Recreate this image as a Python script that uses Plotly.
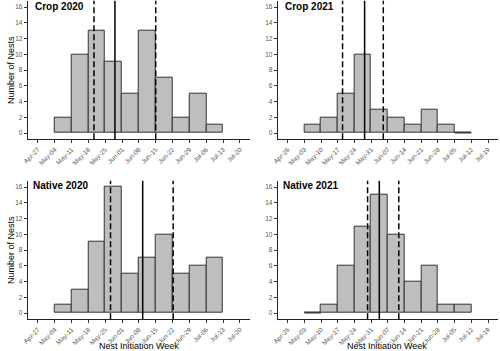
import plotly.graph_objects as go
import pandas as pd

# ---------------- data ----------------
bins_2020 = ["2020-05-04", "2020-05-11", "2020-05-18", "2020-05-25", "2020-06-01",
             "2020-06-08", "2020-06-15", "2020-06-22", "2020-06-29", "2020-07-06"]
bins_2021 = ["2021-05-03", "2021-05-10", "2021-05-17", "2021-05-24", "2021-05-31",
             "2021-06-07", "2021-06-14", "2021-06-21", "2021-06-28", "2021-07-05"]

crop_2020 = [2, 10, 13, 9, 5, 13, 7, 2, 5, 1]
crop_2021 = [1, 2, 5, 10, 3, 2, 1, 3, 1, 0]
native_2020 = [1, 3, 9, 16, 5, 7, 10, 5, 6, 7]
native_2021 = [0, 1, 6, 11, 15, 10, 4, 6, 1, 1]

# vertical reference lines: (lower dashed, solid centre, upper dashed)
crop_2020_lines = ["2020-05-20 08:00", "2020-05-29 01:00", "2020-06-15 00:00"]
crop_2021_lines = ["2021-05-19 00:00", "2021-05-28 06:00", "2021-06-05 02:00"]
native_2020_lines = ["2020-05-27 05:00", "2020-06-09 14:00", "2020-06-22 06:00"]
native_2021_lines = ["2021-05-29 12:00", "2021-06-03 10:00", "2021-06-11 14:00"]

ticks_2020 = ["2020-04-27", "2020-05-04", "2020-05-11", "2020-05-18", "2020-05-25",
              "2020-06-01", "2020-06-08", "2020-06-15", "2020-06-22", "2020-06-29",
              "2020-07-06", "2020-07-13", "2020-07-20"]
ticks_2021 = ["2021-04-26", "2021-05-03", "2021-05-10", "2021-05-17", "2021-05-24",
              "2021-05-31", "2021-06-07", "2021-06-14", "2021-06-21", "2021-06-28",
              "2021-07-05", "2021-07-12", "2021-07-19"]

titles = ["Crop 2020", "Crop 2021", "Native 2020", "Native 2021"]
y_ticks = [0, 2, 4, 6, 8, 10, 12, 14, 16]

# ---------------- layout helpers ----------------
W, H = 500, 351
def px_x(p):
    return p / W
def px_y(p):
    return 1 - p / H

FONT = "Liberation Sans, Arial, sans-serif"
BAR_FILL = "#BEBEBE"
BAR_LINE = "#333333"
TICK_COL = "#555555"

panels = [
    dict(title=titles[0], bins=bins_2020, counts=crop_2020, lines=crop_2020_lines,
         ticks=ticks_2020, xd=(22, 247), yd=(0.7, 139.3), tpos=(27, 6)),
    dict(title=titles[1], bins=bins_2021, counts=crop_2021, lines=crop_2021_lines,
         ticks=ticks_2021, xd=(275, 498), yd=(0.7, 139.3), tpos=(280, 6)),
    dict(title=titles[2], bins=bins_2020, counts=native_2020, lines=native_2020_lines,
         ticks=ticks_2020, xd=(22, 247), yd=(180.7, 319.3), tpos=(25, 185)),
    dict(title=titles[3], bins=bins_2021, counts=native_2021, lines=native_2021_lines,
         ticks=ticks_2021, xd=(275, 498), yd=(180.7, 319.3), tpos=(278, 185)),
]

fig = go.Figure()
week_ms = 7 * 86400000
shapes = []
annotations = []

for i, p in enumerate(panels, start=1):
    xa = "x" if i == 1 else f"x{i}"
    ya = "y" if i == 1 else f"y{i}"
    starts = pd.to_datetime(p["bins"])
    centers = starts + pd.Timedelta(days=3.5)
    fig.add_trace(go.Bar(
        x=centers, y=p["counts"], width=[week_ms] * len(centers),
        marker=dict(color=BAR_FILL, line=dict(color=BAR_LINE, width=1)),
        xaxis=xa, yaxis=ya, showlegend=False, hoverinfo="skip"))
    # zero-count bins are drawn as a flat outline at 0
    for s, c in zip(starts, p["counts"]):
        if c == 0:
            fig.add_trace(go.Scatter(
                x=[s, s + pd.Timedelta(days=7)], y=[0, 0], mode="lines",
                line=dict(color=BAR_LINE, width=1),
                xaxis=xa, yaxis=ya, showlegend=False, hoverinfo="skip"))

    ticks = pd.to_datetime(p["ticks"])
    x0 = ticks[0] - pd.Timedelta(days=4.2)
    x1 = ticks[-1] + pd.Timedelta(days=4.2)
    xkey = "xaxis" if i == 1 else f"xaxis{i}"
    ykey = "yaxis" if i == 1 else f"yaxis{i}"
    fig.update_layout(**{
        xkey: dict(
            domain=[px_x(p["xd"][0]), px_x(p["xd"][1])], anchor=ya, type="date",
            range=[x0, x1], tickmode="array", tickvals=list(ticks),
            ticktext=[t.strftime("%b-%d") for t in ticks], tickangle=-45,
            ticks="outside", ticklen=3, tickwidth=0.8, tickcolor="#333333",
            tickfont=dict(family=FONT, size=6.5, color=TICK_COL),
            showline=True, linecolor="#222222", linewidth=1,
            showgrid=False, zeroline=False, fixedrange=True),
        ykey: dict(
            domain=[px_y(p["yd"][1]), px_y(p["yd"][0])], anchor=xa,
            range=[-0.8, 16.8], tickmode="array", tickvals=y_ticks,
            ticks="outside", ticklen=3, tickwidth=0.8, tickcolor="#333333",
            tickfont=dict(family=FONT, size=6.5, color=TICK_COL),
            showline=True, linecolor="#222222", linewidth=1,
            showgrid=False, zeroline=False, fixedrange=True),
    })

    for j, d in enumerate(p["lines"]):
        shapes.append(dict(
            type="line", xref=xa, yref=f"{ya} domain", x0=d, x1=d, y0=0, y1=1,
            line=dict(color="black", width=1.5, dash="solid" if j == 1 else "6px,3px"),
            layer="above"))

    annotations.append(dict(
        text=f"<b>{p['title']}</b>", xref="paper", yref="paper",
        x=px_x(p["tpos"][0]), y=px_y(p["tpos"][1]), xanchor="left", yanchor="middle",
        showarrow=False, font=dict(family=FONT, size=10, color="black")))

# axis titles
for yc in (70, 250):
    annotations.append(dict(
        text="Number of Nests", xref="paper", yref="paper", x=px_x(5), y=px_y(yc),
        xanchor="center", yanchor="middle", textangle=-90, showarrow=False,
        font=dict(family=FONT, size=9, color="black")))
for xc in (135, 386):
    annotations.append(dict(
        text="Nest Initiation Week", xref="paper", yref="paper", x=px_x(xc), y=px_y(346),
        xanchor="center", yanchor="middle", showarrow=False,
        font=dict(family=FONT, size=9, color="black")))

fig.update_layout(
    width=W, height=H, margin=dict(l=0, r=0, t=0, b=0),
    paper_bgcolor="white", plot_bgcolor="white",
    shapes=shapes, annotations=annotations, bargap=0, showlegend=False,
    font=dict(family=FONT))

fig.write_html("out.html")
